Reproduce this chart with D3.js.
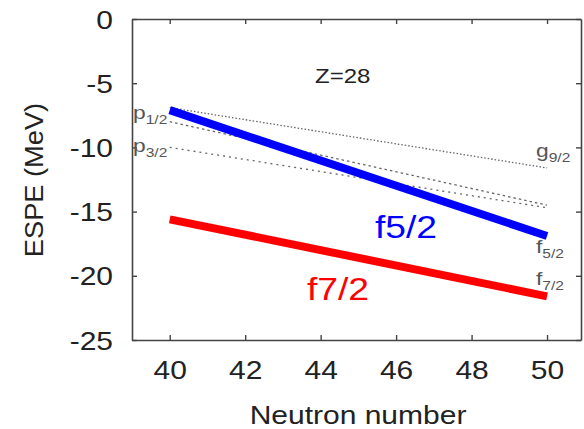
<!DOCTYPE html>
<html><head><meta charset="utf-8">
<script src="https://cdn.jsdelivr.net/npm/d3@7"></script>
<style>body{margin:0;background:#fff}</style>
</head><body>
<svg id="c" width="584" height="429"></svg>
<script>
// Data
const neutron = [40, 50];
const g92 = [-6.9, -11.6];
const p12 = [-8.0, -14.5];
const p32 = [-10.0, -14.7];
const f52 = [-7.1, -16.9];
const f72 = [-15.6, -21.6];
const xTicks = [40, 42, 44, 46, 48, 50];
const yTicks = [0, -5, -10, -15, -20, -25];

const svg = d3.select("#c");
const L = 132, R = 581, T = 19, B = 340;
const SX = 1.2;
const x = d3.scaleLinear().domain([39, 50.9]).range([L, R]);
const y = d3.scaleLinear().domain([-25, 0]).range([B, T]);
const FONT = "'Liberation Sans', Arial, Helvetica, sans-serif";
const axisCol = "#444";
const fmt = d => String(d);

function styleAxis(g) {
  g.select(".domain").attr("stroke", axisCol).attr("stroke-width", 1.6);
  g.selectAll(".tick line").attr("stroke", axisCol).attr("stroke-width", 1.4);
  g.selectAll("text").attr("font-family", FONT).attr("font-size", 25).attr("fill", "#222");
}
const gb = svg.append("g").attr("transform", `translate(0,${B})`)
  .call(d3.axisBottom(x).tickValues(xTicks).tickSizeInner(-5).tickSizeOuter(0).tickFormat(fmt));
styleAxis(gb);
gb.selectAll(".tick text").attr("y", 0).attr("dy", 0)
  .attr("transform", `translate(0,39) scale(${SX},1)`);
const gt = svg.append("g").attr("transform", `translate(0,${T})`)
  .call(d3.axisTop(x).tickValues(xTicks).tickSizeInner(-5).tickSizeOuter(0).tickFormat(""));
styleAxis(gt);
const gl = svg.append("g").attr("transform", `translate(${L},0)`)
  .call(d3.axisLeft(y).tickValues(yTicks).tickSizeInner(-5).tickSizeOuter(0).tickFormat(fmt));
styleAxis(gl);
gl.selectAll(".tick text").attr("x", 0).attr("dy", "0.36em")
  .attr("transform", `translate(-19,0) scale(${SX},1)`);
const gr = svg.append("g").attr("transform", `translate(${R},0)`)
  .call(d3.axisRight(y).tickValues(yTicks).tickSizeInner(-5).tickSizeOuter(0).tickFormat(""));
styleAxis(gr);

function label(xp, yp, size, color, txt, anchor) {
  return svg.append("text").attr("transform", `translate(${xp},${yp}) scale(${SX},1)`)
    .attr("text-anchor", anchor || "start")
    .attr("font-family", FONT).attr("font-size", size).attr("fill", color).text(txt);
}

// Axis titles
label(358, 424, 25, "#222", "Neutron number", "middle");
svg.append("text").attr("transform", "translate(43,180) rotate(-90) scale(1.09,1)").attr("text-anchor", "middle")
  .attr("font-family", FONT).attr("font-size", 25).attr("fill", "#222").text("ESPE (MeV)");

// Lines
const line = vals => d3.line().x((d, i) => x(neutron[i])).y(d => y(d))(vals);
const thin = [
  {v: g92, dash: "1.5,2"},
  {v: p12, dash: "2.5,3"},
  {v: p32, dash: "2,4"}
];
thin.forEach(s => svg.append("path").attr("d", line(s.v)).attr("fill", "none")
  .attr("stroke", "#666").attr("stroke-width", 1.3).attr("stroke-dasharray", s.dash));
svg.append("path").attr("d", line(f52)).attr("fill", "none").attr("stroke", "#0000ff").attr("stroke-width", 8);
svg.append("path").attr("d", line(f72)).attr("fill", "none").attr("stroke", "#ff0000").attr("stroke-width", 8);

// Orbital labels
function orb(xp, yb, main, sub) {
  const t = svg.append("text").attr("transform", `translate(${xp},${yb}) scale(${SX},1)`)
    .attr("font-family", FONT).attr("fill", "#555").attr("font-size", 19);
  t.append("tspan").text(main);
  t.append("tspan").attr("font-size", 13).attr("dy", 5).text(sub);
}
orb(133, 119, "p", "1/2");
orb(133, 152, "p", "3/2");
orb(536, 157, "g", "9/2");
orb(536, 253, "f", "5/2");
orb(536, 285, "f", "7/2");

label(315, 83, 20, "#222", "Z=28");
label(375, 238, 31, "#0000ff", "f5/2");
label(307, 300, 31, "#ff0000", "f7/2");
</script>
</body></html>
